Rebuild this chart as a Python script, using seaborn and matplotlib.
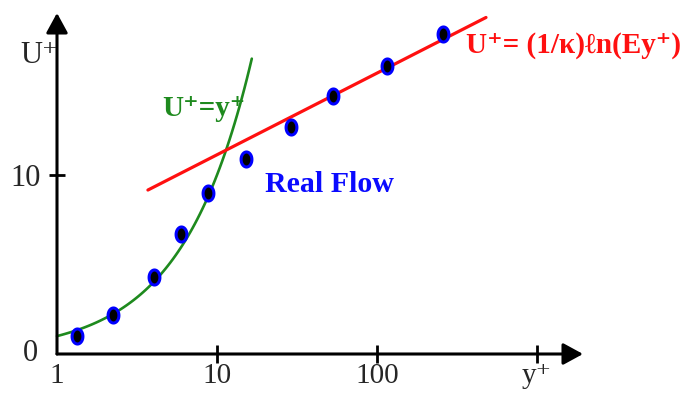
import numpy as np
import matplotlib
matplotlib.use("Agg")
import matplotlib.pyplot as plt
from matplotlib.path import Path
import seaborn as sns

# Measured velocity profile in wall units
y_plus = [1.33, 2.24, 4.04, 5.96, 8.8, 15.2, 29.0, 53.1, 115, 258]
u_plus = [1.0, 2.2, 4.3, 6.7, 9.0, 10.9, 12.7, 14.4, 16.1, 17.9]

# Viscous sublayer U+ = y+ over the span where it is drawn
sub_y = np.geomspace(1.0, 16.5, 80)
sub_u = sub_y.copy()

# Log-law line end points
log_y = [3.7, 480]
log_u = [9.16, 18.8]

# Axis ticks and labels
x_ticks = [1, 10, 100, 1000]
x_labels = ["1", "10", "100", "y\u207a"]
y_ticks = [0, 10]
y_labels = ["0", "10"]

sns.set_style("white")
plt.rcParams["font.family"] = ["Liberation Serif", "DejaVu Serif"]

fig = plt.figure(figsize=(6.81, 3.96), dpi=100)
ax = fig.add_axes([57 / 681, 42 / 396, 526 / 681, 341 / 396])
ax.set_xscale("log")
ax.set_xlim(1, 10 ** 3.2875)
ax.set_ylim(0, 19.05)
for sp in ax.spines.values():
    sp.set_visible(False)

sns.lineplot(x=sub_y, y=sub_u, color="#1e8a1e", lw=1.9, ax=ax,
             clip_on=False, zorder=2)
sns.lineplot(x=log_y, y=log_u, color="#ff1010", lw=2.3, ax=ax, zorder=3)

# Slightly tall elliptical dots
t = np.linspace(0, 2 * np.pi, 64)
ellipse = Path(np.column_stack([0.72 * np.cos(t), np.sin(t)]), closed=True)
sns.scatterplot(x=y_plus, y=u_plus, marker=ellipse, s=117, color="black",
                edgecolor="#0000ff", linewidth=2.2, ax=ax, zorder=5,
                clip_on=False)

# Axes drawn as arrows
arrow = dict(arrowstyle="-|>,head_length=0.55,head_width=0.3", lw=2.2,
             color="black", mutation_scale=22, shrinkA=0, shrinkB=0)
ax.annotate("", xy=(1.0, 0), xytext=(0, 0), xycoords="axes fraction",
            textcoords="axes fraction", arrowprops=arrow,
            annotation_clip=False)
ax.annotate("", xy=(0, 1.0), xytext=(0, 0), xycoords="axes fraction",
            textcoords="axes fraction", arrowprops=arrow,
            annotation_clip=False)

ax.set_xticks(x_ticks)
ax.set_xticklabels(x_labels)
ax.xaxis.set_minor_locator(matplotlib.ticker.NullLocator())
ax.set_yticks(y_ticks)
ax.set_yticklabels(y_labels)
ax.tick_params(axis="x", direction="inout", length=13, width=2,
               color="black", labelsize=21, pad=0, bottom=True)
ax.tick_params(axis="y", direction="inout", length=11, width=2,
               color="black", labelsize=22, pad=6, left=True)
ax.xaxis.get_major_ticks()[0].tick1line.set_visible(False)
ax.yaxis.get_major_ticks()[0].tick1line.set_visible(False)
# the zero label sits a little above the x axis and further left
zero_label = ax.yaxis.get_major_ticks()[0].label1
zero_label.set_transform(zero_label.get_transform() +
                         matplotlib.transforms.ScaledTranslation(
                             -3 / 100, 4 / 100, fig.dpi_scale_trans))
ax.set_xlabel("")
ax.set_ylabel("")


def px(x, y):
    return x / 681, 1 - y / 396


fig.text(*px(20, 63), "U\u207a", fontsize=22, ha="left", va="baseline")
fig.text(*px(162, 116), "U\u207a=y\u207a", fontsize=21, fontweight="bold",
         color="#1e8a1e", ha="left", va="baseline")
fig.text(*px(265, 192), "Real Flow", fontsize=21.5, fontweight="bold",
         color="#0a0aff", ha="left", va="baseline")
fig.text(*px(466, 53), "U\u207a= (1/\u03ba)\u2113n(Ey\u207a)", fontsize=21,
         fontweight="bold", color="#ff1010", ha="left", va="baseline")

fig.savefig("out.png", dpi=100, facecolor="white")
